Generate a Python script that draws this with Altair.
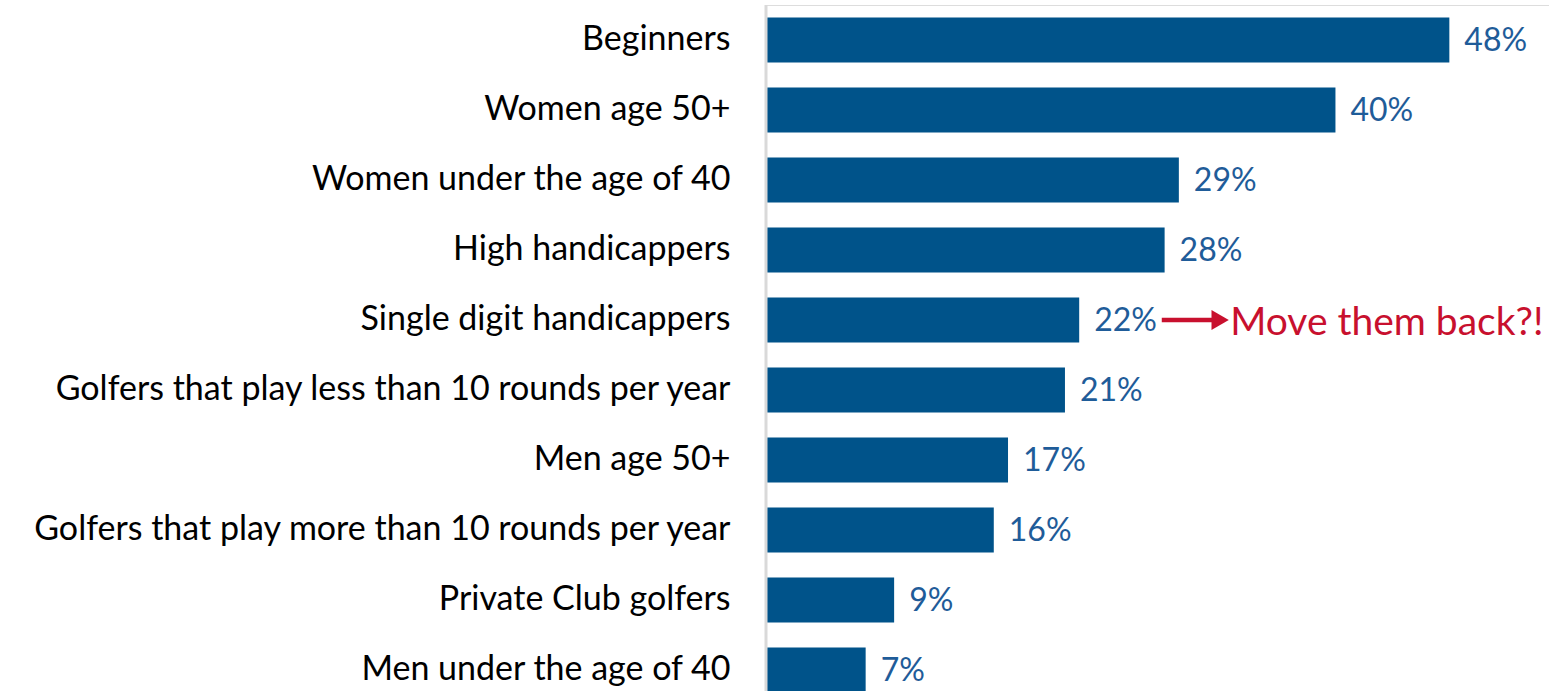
import altair as alt
import pandas as pd

segments = [
    "Beginners",
    "Women age 50+",
    "Women under the age of 40",
    "High handicappers",
    "Single digit handicappers",
    "Golfers that play less than 10 rounds per year",
    "Men age 50+",
    "Golfers that play more than 10 rounds per year",
    "Private Club golfers",
    "Men under the age of 40",
]
shares = [48, 40, 29, 28, 22, 21, 17, 16, 9, 7]

callout_segment = "Single digit handicappers"
callout_text = "Move them back?!"
arrow_from, arrow_to = 27.8, 31.9

BAR = "#00538A"
LABEL = "#1F5C99"
RED = "#C8102E"
FONT = "Lato"

df = pd.DataFrame({"segment": segments, "share": shares})
df["label"] = df["share"].astype(str) + "%"

x_scale = alt.Scale(domain=[0, 55], nice=False, zero=True)
# the band range runs a little past the drawing height, so the last bar is cropped
y_scale = alt.Scale(paddingInner=0.357, paddingOuter=0.18, range=[0, 700])

y_enc = alt.Y(
    "segment:N",
    sort=segments,
    scale=y_scale,
    axis=alt.Axis(
        title=None,
        ticks=False,
        domain=False,
        grid=False,
        labelFont=FONT,
        labelFontSize=34,
        labelColor="#000000",
        labelPadding=36,
        labelLimit=0,
    ),
)

bars = alt.Chart(df).mark_bar(color=BAR).encode(
    x=alt.X("share:Q", scale=x_scale, axis=None),
    y=y_enc,
)

# light grey baseline at zero
baseline = alt.Chart(pd.DataFrame({"zero": [0]})).mark_rule(
    color="#D9D9D9", strokeWidth=3
).encode(x=alt.X("zero:Q", scale=x_scale, axis=None))

values = alt.Chart(df).mark_text(
    align="left", baseline="middle", dx=15, dy=1, font=FONT, fontSize=32, color=LABEL
).encode(
    x=alt.X("share:Q", scale=x_scale, axis=None),
    y=alt.Y("segment:N", sort=segments),
    text="label:N",
)

ann = pd.DataFrame(
    {"segment": [callout_segment], "x0": [arrow_from], "x1": [arrow_to], "text": [callout_text]}
)

arrow_line = alt.Chart(ann).mark_rule(color=RED, strokeWidth=4.5).encode(
    x=alt.X("x0:Q", scale=x_scale, axis=None),
    x2="x1:Q",
    y=alt.Y("segment:N", sort=segments, bandPosition=0.5),
)

arrow_head = alt.Chart(ann).mark_point(
    shape="triangle-right", filled=True, color=RED, size=400, opacity=1
).encode(
    x=alt.X("x1:Q", scale=x_scale, axis=None),
    y=alt.Y("segment:N", sort=segments),
)

callout = alt.Chart(ann).mark_text(
    align="left", baseline="middle", dx=10, dy=3, font=FONT, fontSize=39, color=RED
).encode(
    x=alt.X("x1:Q", scale=x_scale, axis=None),
    y=alt.Y("segment:N", sort=segments),
    text="text:N",
)

chart = (
    alt.layer(bars, baseline, values, arrow_line, arrow_head, callout)
    .properties(
        width=783,
        height=686,
        autosize=alt.AutoSizeParams(type="none"),
        padding={"left": 766, "top": 5, "right": 0, "bottom": 0},
    )
    .configure_view(stroke=None, strokeWidth=0, strokeOpacity=0)
    .configure_axis(grid=False, domain=False, ticks=False)
    .configure(background="white")
)

chart.save("out.html", embed_options={"renderer": "svg", "actions": False})
